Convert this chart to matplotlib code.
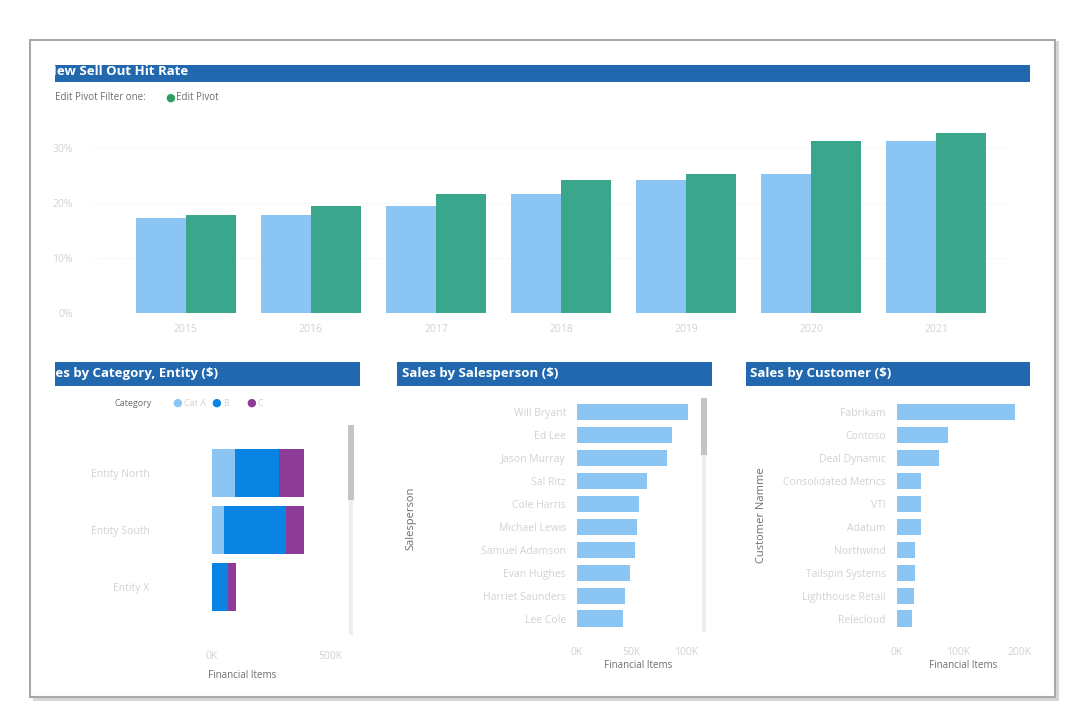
import numpy as np
import matplotlib
matplotlib.use("Agg")
import matplotlib.pyplot as plt
from matplotlib.patches import Rectangle

# data
years = ["2015", "2016", "2017", "2018", "2019", "2020", "2021"]
hit_prev = [17.3, 17.8, 19.5, 21.6, 24.2, 25.3, 31.3]
hit_curr = [17.8, 19.5, 21.6, 24.2, 25.3, 31.3, 32.7]
hit_ticks = [0, 10, 20, 30]

entities = ["Entity North", "Entity South", "Entity X"]
cat_labels = ["Cat A", "B", "C"]
cat_a = [97, 51, 0]
cat_b = [187, 263, 68]
cat_c = [106, 76, 34]

salespeople = ["Will Bryant", "Ed Lee", "Jason Murray", "Sal Ritz", "Cole Harris",
               "Michael Lewis", "Samuel Adamson", "Evan Hughes", "Harriet Saunders", "Lee Cole"]
sp_sales = [102, 87, 83, 64, 57, 55, 53, 49, 44, 42]
sp_ticks = [0, 50, 100]
sp_ticklabels = ["0K", "50K", "100K"]

customers = ["Fabrikam", "Contoso", "Deal Dynamic", "Consolidated Metrics", "VTI",
             "Adatum", "Northwind", "Tailspin Systems", "Lighthouse Retail", "Relecloud"]
cust_sales = [193, 84, 69, 39, 39, 39, 30, 30, 28, 25]
cust_ticks = [0, 100, 200]
cust_ticklabels = ["0K", "100K", "200K"]

W, H = 1086, 724
LIGHT = "#8ac5f4"
GREEN = "#3aa68c"
BLUE = "#0a84e2"
PURPLE = "#8c3b97"
HEAD = "#2168ae"
FAINT = "#d2d2d2"
GRAYTXT = "#6e6e6e"

plt.rcParams["font.family"] = ["Open Sans", "DejaVu Sans"]

fig = plt.figure(figsize=(W / 100, H / 100), dpi=100)
fig.patch.set_facecolor("white")


def px(x0, y0, x1, y1):
    return [x0 / W, 1 - y1 / H, (x1 - x0) / W, (y1 - y0) / H]


# card with shadow (behind all axes)
fig.patches.append(Rectangle((33 / W, 1 - 701 / H), 1026 / W, 660 / H,
                             transform=fig.transFigure, facecolor="#d6d6d6",
                             edgecolor="none", zorder=-3))
fig.patches.append(Rectangle((30 / W, 1 - 697 / H), 1025 / W, 657 / H,
                             transform=fig.transFigure, facecolor="white",
                             edgecolor="#a8a8a8", lw=1.5, zorder=-2))


def header(rect, title, offset, ypos=0.5):
    ax = fig.add_axes(px(*rect))
    ax.set_xlim(0, 1)
    ax.set_ylim(0, 1)
    ax.add_patch(Rectangle((0, 0), 1, 1, facecolor=HEAD, edgecolor="none"))
    ax.text(offset, ypos, title, color="white", fontsize=9.5, fontweight="bold",
            va="center", ha="left", clip_on=True)
    ax.axis("off")
    return ax


def clean(ax):
    for s in ax.spines.values():
        s.set_visible(False)
    ax.tick_params(length=0, colors=FAINT, labelsize=7.5)


def scrollbar(x, y0, y1, t0, t1):
    ax = fig.add_axes(px(x - 3, y0, x + 3, y1))
    ax.set_xlim(0, 1)
    ax.set_ylim(y1, y0)
    ax.add_patch(Rectangle((0.2, y0), 0.6, y1 - y0, facecolor="#eeeeee", edgecolor="none"))
    ax.add_patch(Rectangle((0, t0), 1, t1 - t0, facecolor="#c4c4c4", edgecolor="none"))
    ax.axis("off")


# --- top chart ---
header((55, 65, 1030, 82), "New Sell Out Hit Rate", -0.009, ypos=0.62)
fig.text(55 / W, 1 - 98 / H, "Edit Pivot Filter one:", color=GRAYTXT, fontsize=7,
         va="center", ha="left")
fig.text(170 / W, 1 - 98 / H, "\u25CF", color="#2e9e5e", fontsize=8, va="center", ha="center")
fig.text(176 / W, 1 - 98 / H, "Edit Pivot", color=GRAYTXT, fontsize=7, va="center", ha="left")

ax = fig.add_axes(px(92, 125, 1011, 313))
x = np.arange(len(years))
ax.bar(x - 0.2, hit_prev, width=0.4, color=LIGHT)
ax.bar(x + 0.2, hit_curr, width=0.4, color=GREEN)
ax.set_xlim(-0.75, 6.6)
ax.set_ylim(0, 34.2)
ax.set_yticks(hit_ticks)
ax.set_yticklabels([f"{t}%" for t in hit_ticks])
ax.set_xticks(x)
ax.set_xticklabels(years)
clean(ax)
ax.tick_params(axis="x", pad=8)
ax.tick_params(axis="y", pad=14)
ax.grid(axis="y", color="#f0f0f0", lw=0.8, ls=":")
ax.set_axisbelow(True)

# --- sales by category, entity ---
header((55, 362, 360, 386), "Sales by Category, Entity ($)", -0.062)
fig.text(115 / W, 1 - 403 / H, "Category", color=GRAYTXT, fontsize=6.5, va="center")
for cx, col, lab in [(177, LIGHT, cat_labels[0]), (216, BLUE, cat_labels[1]),
                     (251, PURPLE, cat_labels[2])]:
    fig.text(cx / W, 1 - 403 / H, "\u25CF", color=col, fontsize=8, va="center", ha="center")
    fig.text((cx + 7) / W, 1 - 403 / H, lab, color=FAINT, fontsize=6.5, va="center")

ax = fig.add_axes(px(212, 425, 345, 640))
y = np.arange(len(entities))
ax.barh(y, cat_a, height=0.84, color=LIGHT)
ax.barh(y, cat_b, left=cat_a, height=0.84, color=BLUE)
ax.barh(y, cat_c, left=np.add(cat_a, cat_b), height=0.84, color=PURPLE)
ax.set_ylim(2.93, -0.84)
ax.set_xlim(0, 563)
ax.set_yticks(y)
ax.set_yticklabels(entities)
ax.set_xticks([0, 500])
ax.set_xticklabels(["0K", "500K"])
clean(ax)
ax.tick_params(axis="y", pad=45)
ax.tick_params(axis="x", pad=8)
ax.set_xlabel("Financial Items", color=GRAYTXT, fontsize=7)
ax.xaxis.set_label_coords(0.23, -0.14)
scrollbar(351, 425, 635, 425, 500)

# --- sales by salesperson ---
header((397, 362, 712, 386), "Sales by Salesperson ($)", 0.015)
ax = fig.add_axes(px(577, 400, 700, 630))
y = np.arange(len(salespeople))
ax.barh(y, sp_sales, height=0.7, color=LIGHT)
ax.set_ylim(9.5, -0.52)
ax.set_xlim(0, 113)
ax.set_yticks(y)
ax.set_yticklabels(salespeople, fontsize=6.5)
ax.set_xticks(sp_ticks)
ax.set_xticklabels(sp_ticklabels)
clean(ax)
ax.tick_params(axis="y", pad=8)
ax.tick_params(axis="x", pad=12)
ax.set_xlabel("Financial Items", color=GRAYTXT, fontsize=7, labelpad=2)
fig.text(411 / W, 1 - 518 / H, "Salesperson", color=GRAYTXT, fontsize=8,
         rotation=90, va="center", ha="center")
scrollbar(704, 398, 632, 398, 455)

# --- sales by customer ---
header((746, 362, 1030, 386), "Sales by Customer ($)", 0.015)
ax = fig.add_axes(px(897, 400, 1030, 630))
y = np.arange(len(customers))
ax.barh(y, cust_sales, height=0.7, color=LIGHT)
ax.set_ylim(9.5, -0.52)
ax.set_xlim(0, 218)
ax.set_yticks(y)
ax.set_yticklabels(customers, fontsize=6.5)
ax.set_xticks(cust_ticks)
ax.set_xticklabels(cust_ticklabels)
clean(ax)
ax.tick_params(axis="y", pad=8)
ax.tick_params(axis="x", pad=12)
ax.set_xlabel("Financial Items", color=GRAYTXT, fontsize=7, labelpad=2)
fig.text(761 / W, 1 - 515 / H, "Customer Namme", color=GRAYTXT, fontsize=8,
         rotation=90, va="center", ha="center")

fig.savefig("out.png", dpi=100, facecolor="white")
